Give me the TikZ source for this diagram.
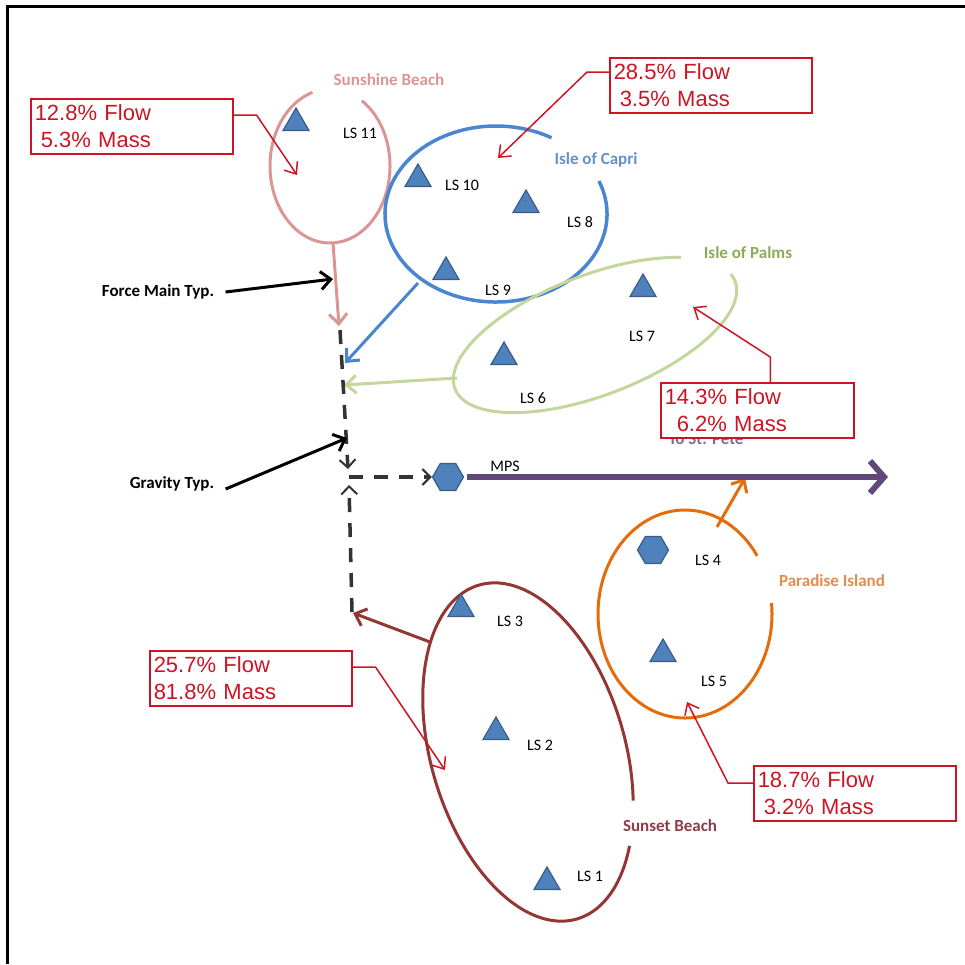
\documentclass[tikz,border=0pt]{standalone}
\usepackage{fontspec}
\setmainfont{Carlito}
\newfontfamily\arialfont{Liberation Sans}
\usetikzlibrary{arrows.meta,shapes.geometric}

\definecolor{pumpblue}{RGB}{79,129,189}
\definecolor{pumpedge}{RGB}{56,93,138}
\definecolor{calloutred}{RGB}{205,20,35}
\definecolor{sunshine}{RGB}{217,150,148}
\definecolor{capri}{RGB}{74,134,208}
\definecolor{capritext}{RGB}{100,145,205}
\definecolor{palms}{RGB}{195,214,155}
\definecolor{palmstext}{RGB}{140,170,90}
\definecolor{paradise}{RGB}{228,108,10}
\definecolor{paradisetext}{RGB}{225,140,80}
\definecolor{sunset}{RGB}{148,54,52}
\definecolor{sunsettext}{RGB}{140,60,75}
\definecolor{mpsline}{RGB}{96,73,122}

\tikzset{
  station/.style={regular polygon, regular polygon sides=3, fill=pumpblue, draw=pumpedge,
    line width=1.2pt, minimum size=30pt, inner sep=0pt, yshift=4pt},
  hexpump/.style={regular polygon, regular polygon sides=6, fill=pumpblue, draw=pumpedge,
    line width=1.2pt, minimum size=31pt, inner sep=0pt},
  lslabel/.style={font=\fontsize{16}{18}\selectfont},
  arealabel/.style={font=\fontsize{17}{19}\selectfont\bfseries},
  callout/.style={draw=calloutred, fill=white, line width=1.5pt, text=calloutred,
    font=\arialfont\fontsize{22}{27}\selectfont, align=left, anchor=north west,
    inner xsep=4pt, inner ysep=2pt, minimum height=55pt},
  leader/.style={calloutred, line width=1.5pt, -{Straight Barb[length=10pt,width=16pt]}},
  forcemain/.style={line width=3pt, -{Straight Barb[length=10pt,width=18pt]}},
  gravity/.style={draw=black!80, line width=3.5pt, dash pattern=on 14pt off 11pt,
    -{Straight Barb[length=8pt,width=16pt,line width=2pt]}}
}

\begin{document}
\begin{tikzpicture}[x=1pt,y=-1pt]
\useasboundingbox (0,0) rectangle (965,964);
% frame (only left and top edges show)
\draw[line width=3pt] (7,964) -- (7,6) -- (965,6);

% service areas, each ring open where its name sits
\begin{scope}[shift={(330,166)}]
  \draw[sunshine, line width=3pt] (-58:60 and 77) arc[start angle=-58, end angle=253, x radius=60, y radius=77];
\end{scope}
\begin{scope}[shift={(496,214)}]
  \draw[capri, line width=3.5pt] (-22:111 and 88) arc[start angle=-22, end angle=300, x radius=111, y radius=88];
\end{scope}
\begin{scope}[shift={(595,335)}, rotate=21]
  \draw[palms, line width=3pt] (-8:150 and 60) arc[start angle=-8, end angle=316, x radius=150, y radius=60];
\end{scope}
\begin{scope}[shift={(685,614)}]
  \draw[paradise, line width=3pt] (-6:87 and 104) arc[start angle=-6, end angle=326, x radius=87, y radius=104];
\end{scope}
\begin{scope}[shift={(528,752)}, rotate=16.4]
  \draw[sunset, line width=3pt] (43:97 and 174) arc[start angle=43, end angle=386, x radius=97, y radius=174];
\end{scope}

% area names
\node[arealabel, text=sunshine] (sunshine) at (389,80) {Sunshine Beach};
\node[arealabel, text=capritext] (capri) at (596,160) {Isle of Capri};
\node[arealabel, text=palmstext] (palms) at (748,253) {Isle of Palms};
\node[arealabel, text=paradisetext] (paradise) at (832,581) {Paradise Island};
\node[arealabel, text=sunsettext] (sunset) at (670,826) {Sunset Beach};

% lift stations: number/x/y/label x/label y
\foreach \n/\x/\y/\lx/\ly in {11/296/127/360/133, 10/418/183/462/185, 8/526/209/580/222,
    9/446/276/498/290, 7/643/293/642/336, 6/504/361/533/398, 3/461/613/510/621,
    2/496/736/540/745, 1/547/886/590/876, 5/663/658/714/681}
  {\node[station] (ls\n) at (\x,\y) {};
   \node[lslabel] (ls\n-name) at (\lx,\ly) {LS \n};}
\node[hexpump] (ls4) at (653,550) {};
\node[lslabel] (ls4-name) at (708,560) {LS 4};
\node[hexpump] (mps) at (448,477) {};
\node[lslabel] (mps-name) at (505,466) {MPS};

% force mains out of each area
\coordinate (sb-out) at (333,243);   \coordinate (sb-in) at (339,326);
\coordinate (ic-out) at (418,283);   \coordinate (ic-in) at (345,363);
\coordinate (ip-out) at (457,378);   \coordinate (ip-in) at (344,385);
\coordinate (ss-out) at (430,642);   \coordinate (ss-in) at (353,613);
\coordinate (pi-out) at (717,527);   \coordinate (pi-in) at (745,478);
\draw[forcemain, sunshine] (sb-out) -- (sb-in);
\draw[forcemain, capri] (ic-out) -- (ic-in);
\draw[forcemain, palms] (ip-out) -- (ip-in);
\draw[forcemain, sunset] (ss-out) -- (ss-in);
\draw[forcemain, paradise] (pi-out) -- (pi-in);

% gravity lines into the master pump station
\coordinate (grav-top) at (340,330);  \coordinate (junc-top) at (348,469);
\coordinate (grav-bot) at (352,612);  \coordinate (junc-bot) at (349,485);
\coordinate (junc) at (349,477);
\draw[gravity] (grav-top) -- (junc-top);
\draw[gravity] (grav-bot) -- (junc-bot);
\draw[gravity] (junc) -- (mps.west);

% to St. Pete
\node[arealabel, text=mpsline!80] (stpete) at (706,439) {To St. Pete};
\coordinate (stpete-end) at (888,477);
\draw[mpsline, line width=6pt, -{Straight Barb[length=14pt,width=32pt]}] (mps.east) ++(3,0) -- (stpete-end);

% callouts
\node[callout, text width=194pt] (flow11) at (30,98) {12.8\% Flow\\\hspace*{6pt}5.3\% Mass};
\node[callout, text width=194pt] (flow8) at (609,57) {28.5\% Flow\\\hspace*{6pt}3.5\% Mass};
\node[callout, text width=185pt] (flow7) at (660,382) {14.3\% Flow\\\hspace*{12pt}6.2\% Mass};
\node[callout, text width=194pt] (flow3) at (149,650) {25.7\% Flow\\81.8\% Mass};
\node[callout, text width=194pt] (flow5) at (753,765) {18.7\% Flow\\\hspace*{6pt}3.2\% Mass};
\coordinate (sb-tip) at (297,175);
\coordinate (ic-tip) at (498,158);
\coordinate (ip-tip) at (693,307);
\coordinate (ss-tip) at (445,770);
\coordinate (pi-tip) at (687,702);
\draw[leader] ([yshift=-17pt]flow11.north east) -- ++(23,0) -- (sb-tip);
\draw[leader] ([yshift=-15pt]flow8.north west) -- ++(-22,0) -- (ic-tip);
\draw[leader] ([xshift=13pt]flow7.north) -- ++(0,-25) -- (ip-tip);
\draw[leader] ([yshift=-17pt]flow3.north east) -- ++(23,0) -- (ss-tip);
\draw[leader] ([yshift=-18pt]flow5.north west) -- ++(-25,0) -- (pi-tip);

% pipe type notes
\node[arealabel] (fm-note) at (158,292) {Force Main Typ.};
\node[arealabel] (grav-note) at (172,484) {Gravity Typ.};
\coordinate (fm-tip) at (333,279);
\coordinate (grav-tip) at (347,438);
\draw[forcemain] (fm-note.east) ++(8,0) -- (fm-tip);
\draw[forcemain] (grav-note.east) ++(8,5) -- (grav-tip);
\end{tikzpicture}
\end{document}
